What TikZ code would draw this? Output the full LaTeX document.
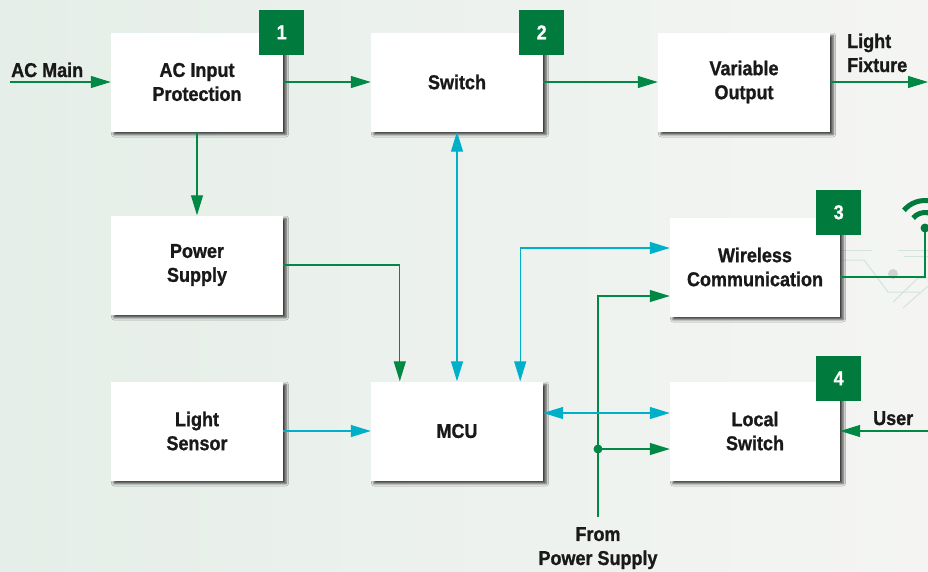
\documentclass[tikz,border=0pt]{standalone}
\usepackage{fontspec}
\setmainfont{Liberation Sans}[FakeStretch=0.9, BoldFeatures={FakeBold=1}]
\usepackage{tikz}
\usetikzlibrary{arrows.meta,positioning,shadows,shadows.blur}
\definecolor{linegreen}{RGB}{0,136,68}
\definecolor{badgegreen}{RGB}{0,122,61}
\definecolor{linecyan}{RGB}{0,176,201}
\definecolor{tracegreen}{HTML}{D2E4D8}
\newcommand\lblfont{\fontsize{20pt}{24pt}\selectfont\bfseries}

\begin{document}
\begin{tikzpicture}[x=1pt, y=-1pt, node distance=260pt,
  box/.style={rectangle, fill=white, minimum width=172pt, minimum height=99pt,
    inner sep=0pt, align=center, font=\lblfont, text=black!90,
    blur shadow={shadow xshift=3pt, shadow yshift=-3pt, shadow blur radius=2.5pt, shadow opacity=75}},
  badge/.style={rectangle, fill=badgegreen, minimum size=45pt, inner sep=0pt,
    text=white, font=\lblfont, xshift=-1.5pt},
  gline/.style={draw=linegreen, line width=1.2pt, -{Triangle[length=20pt,width=12pt]}},
  cline/.style={draw=linecyan, line width=1.2pt, -{Triangle[length=20pt,width=12pt]}},
  cboth/.style={cline, {Triangle[length=20pt,width=12pt]}-{Triangle[length=20pt,width=12pt]}},
  lbl/.style={font=\lblfont, text=black!90, inner sep=0pt, align=left}]
  \useasboundingbox (0,0) rectangle (928,571);
  \shade[left color={rgb,255:red,229;green,238;blue,232}, right color={rgb,255:red,244;green,245;blue,243}] (0,0) rectangle (928,571);

  % circuit traces behind the antenna
  \begin{scope}[tracegreen, line width=1pt]
    \draw (842,260) -- (864,260) -- (888,292) -- (920,292);
    \draw (842,250) -- (872,250);
    \draw (898,250) -- (928,250);
    \draw (904,256) -- (928,256);
    \draw (893,302) -- (918,278) -- (928,278);
    \draw (903,308) -- (928,286);
  \end{scope}
  \fill[gray!35] (893,274) circle[radius=5pt];

  % blocks
  \node (acin) [box] at (197,82) {AC Input\\Protection};
  \node (switch) [box, right of=acin] {Switch};
  \node (varout) [box, right of=switch, xshift=27pt] {Variable\\Output};
  \node (psu) [box] at (197,265) {Power\\Supply};
  \node (sensor) [box] at (197,431) {Light\\Sensor};
  \node (mcu) [box, right of=sensor] {MCU};
  \node (wireless) [box, minimum width=170pt] at (755,267) {Wireless\\Communication};
  \node (localsw) [box, minimum width=170pt, right of=mcu, xshift=38pt] {Local\\Switch};

  \node (b1) [badge] at (acin.north east) {1};
  \node (b2) [badge] at (switch.north east) {2};
  \node (b3) [badge, yshift=5pt] at (wireless.north east) {3};
  \node (b4) [badge, yshift=3pt] at (localsw.north east) {4};

  % free ends
  \coordinate (acmain) at (10,82);
  \coordinate (fixture) at (928,82);
  \coordinate (user) at (928,431);
  \coordinate (frompsu) at (598,517);
  \coordinate (jn) at (598,449);
  \coordinate (ant) at (925,228);

  \node (acmainlbl) [lbl, anchor=base west] at (11,77) {AC Main};
  \node (fixturelbl) [lbl, anchor=base west] at (847,72) {Light\\Fixture};
  \node (userlbl) [lbl, anchor=base west] at (873,425) {User};
  \node (frompsulbl) [lbl, align=center, anchor=north] at (598,527) {From\\Power Supply};

  % green power path
  \draw[gline] (acmain) -- (acin.west);
  \draw[gline] (acin) -- (switch);
  \draw[gline] (switch) -- (varout);
  \draw[gline] (varout.east) -- (fixture);
  \draw[gline] (acin) -- (psu);
  \draw[gline] (psu.east) -| ([xshift=29pt]mcu.north west);
  \draw[gline] (frompsu) |- ([yshift=-29pt]wireless.west);
  \draw[gline] (jn) -- (jn -| localsw.west);
  \fill[linegreen] (jn) circle[radius=4.5pt];
  \draw[gline] (user) -- (localsw.east);

  % cyan signal path
  \draw[cboth] (switch) -- (mcu);
  \draw[cline] (sensor) -- (mcu);
  \draw[cboth] ([xshift=-23pt]mcu.north east) |- ([yshift=19pt]wireless.west);
  \draw[cboth] ([yshift=18pt]mcu.east) -- ([yshift=18pt]localsw.west);

  % antenna
  \draw[linegreen, line width=1.2pt] ([yshift=-10pt]wireless.east) -| (ant);
  \fill[badgegreen] (ant) circle[radius=4.5pt];
  \draw[badgegreen, line width=5pt] (ant) ++(140:15.5pt) arc[start angle=140, end angle=40, radius=15.5pt];
  \draw[badgegreen, line width=5pt] (ant) ++(140:27.5pt) arc[start angle=140, end angle=40, radius=27.5pt];
\end{tikzpicture}
\end{document}
